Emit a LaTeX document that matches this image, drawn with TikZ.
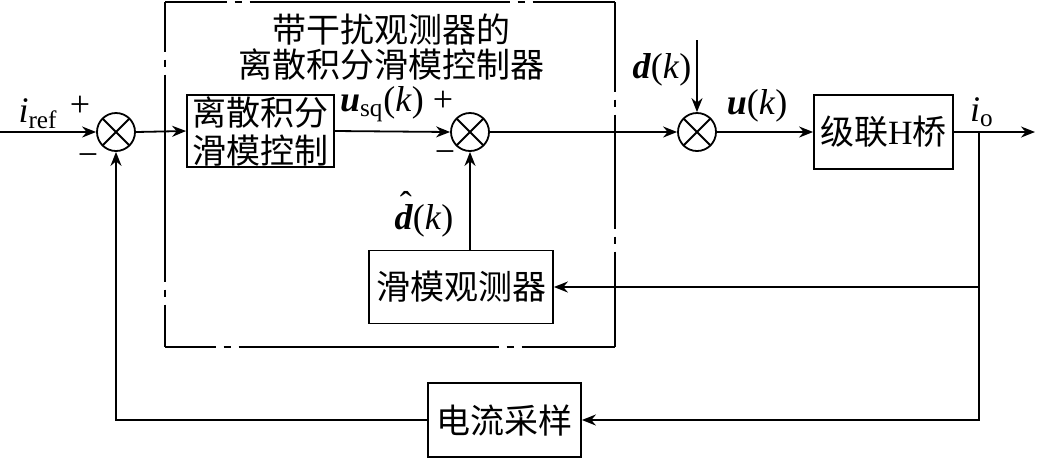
\documentclass[tikz,border=0pt]{standalone}
\usepackage{amsmath,amssymb}
\usepackage{fontspec}
\setmainfont{Liberation Serif}
\newfontfamily\cjk{Noto Sans CJK SC}
\usetikzlibrary{arrows.meta,positioning,calc}

\tikzset{
  blk/.style={draw,line width=0.9pt,inner sep=0pt,align=center,
    font=\cjk\fontsize{17}{19}\selectfont},
  sumnode/.style={draw,circle,line width=0.9pt,minimum size=19pt,inner sep=0pt,
    path picture={\draw[line width=0.9pt]
      (path picture bounding box.north west)--(path picture bounding box.south east)
      (path picture bounding box.north east)--(path picture bounding box.south west);}},
  lbl/.style={font=\fontsize{18}{20}\selectfont,inner sep=1pt},
  frm/.style={line width=0.7pt,dash pattern=on #1 off 4pt on 3.5pt off 4pt},
}
\newcommand{\bi}[1]{\textbf{\textit{#1}}}
\newcommand{\dhatsym}{\makebox[0pt][l]{\hspace{0.15em}\raisebox{0.36em}{ˆ}}\bi{d}}

\begin{document}
\begin{tikzpicture}[x=0.5pt,y=-0.5pt,line width=0.9pt,
  >={Stealth[length=7pt,width=5.5pt]}]
\useasboundingbox (0,0) rectangle (1038,457);
% frame of the controller
\coordinate (fnw) at (165,2);
\coordinate (fne) at (615,2);
\coordinate (fsw) at (165,347);
\coordinate (fse) at (615,347);
\draw[frm=130pt,dash phase=99.25pt] (fnw) -- (fne);
\draw[frm=130pt,dash phase=104.75pt] (fsw) -- (fse);
\draw[frm=103.5pt,dash phase=78.75pt] (fnw) -- (fsw);
\draw[frm=57pt,dash phase=12.25pt] (fne) -- (fse);
\node[font=\cjk\fontsize{17}{17.5}\selectfont,align=center] (title) at (391,47)
  {带干扰观测器的\\离散积分滑模控制器};

\node[sumnode] (sum1) at (116,132) {};
\node[blk,minimum width=73.5pt,minimum height=36pt] (ctrl) at (260.5,131) {离散积分\\滑模控制};
\node[sumnode] (sum2) at (470,132) {};
\node[sumnode] (sum3) at (697,132) {};
\node[blk,minimum width=69.5pt,minimum height=37pt] (plant) at (883.5,132)
  {级联{\rmfamily H}桥};
\node[blk,minimum width=92pt,minimum height=36.5pt] (obs) at (461,287) {滑模观测器};
\node[blk,minimum width=76.5pt,minimum height=37pt] (samp) at (504.5,420) {电流采样};

\coordinate (in) at (0,132);
\coordinate (dtop) at (697,40);
\coordinate (br) at (979,132);
\coordinate (out) at (1035,132);

% signals
\draw[->] (in) -- (sum1.west);
\draw[->] (sum1.east) -- (ctrl.west);
\draw[->] (ctrl.east) -- (sum2.west);
\draw[->] (sum2.east) -- (sum3.west);
\draw[->] (dtop) -- (sum3.north);
\draw[->] (sum3.east) -- (plant.west);
\draw[->] (plant.east) -- (out);
\draw[->] (br) |- (obs.east);
\draw[->] (br) |- (samp.east);
\draw[->] (sum2 |- obs.north) -- (sum2.south);
\draw[->] (samp.west) -| (sum1.south);

% labels
\node[lbl] (iref) at (38,114) {\textit{i}\textsubscript{ref}};
\node[lbl] (p1) at (80,106) {+};
\node[lbl] (m1) at (88,160) {−};
\node[lbl] (usq) at (382,104) {\bi{u}\textsubscript{sq}(\textit{k})};
\node[lbl] (p2) at (443,101) {+};
\node[lbl] (m2) at (445,157) {−};
\node[lbl] (dhat) at (424,214) {\dhatsym(\textit{k})};
\node[lbl] (dk) at (662,70) {\bi{d}(\textit{k})};
\node[lbl] (uk) at (757,106) {\bi{u}(\textit{k})};
\node[lbl] (io) at (982,112) {\textit{i}\textsubscript{o}};
\end{tikzpicture}
\end{document}
